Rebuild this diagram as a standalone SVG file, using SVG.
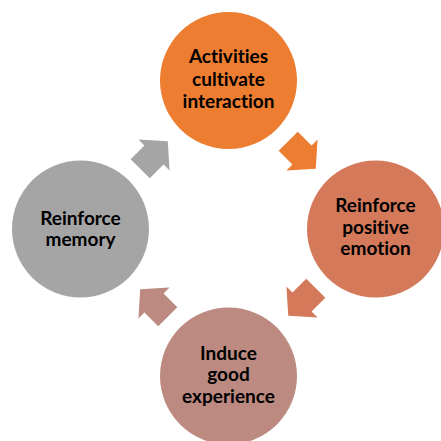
<svg xmlns="http://www.w3.org/2000/svg" width="441" height="441" viewBox="0 0 441 441">
  <defs>
    <style>
      .lbl { font-family: Lato, "Open Sans", "Liberation Sans", sans-serif; font-weight: bold; font-size: 19px; fill: #000; text-anchor: middle; font-variant-ligatures: none; font-feature-settings: "liga" 0, "clig" 0; }
    </style>
    <!-- block arrow pointing along +x, centred on the origin -->
    <polygon id="cycArrow" points="-19.5,-13.5 0,-13.5 0,-22 19.5,0 0,22 0,13.5 -19.5,13.5"/>
  </defs>

  <rect width="441" height="441" fill="#fff"/>

  <g id="connectors">
    <use href="#cycArrow" transform="translate(302,155) rotate(45)" fill="#ED7D31"/>
    <use href="#cycArrow" transform="translate(302,302) rotate(135)" fill="#D47A5B"/>
    <use href="#cycArrow" transform="translate(154,303) rotate(225)" fill="#BC8A80"/>
    <use href="#cycArrow" transform="translate(154,155) rotate(315)" fill="#A5A5A5"/>
  </g>

  <g id="node-activities">
    <circle cx="228.5" cy="80.5" r="68.5" fill="#ED7D31"/>
    <text class="lbl" x="228.5" y="63">Activities</text>
    <text class="lbl" x="228.5" y="85.5">cultivate</text>
    <text class="lbl" x="228.5" y="108">interaction</text>
  </g>

  <g id="node-emotion">
    <circle cx="375.5" cy="229" r="68.5" fill="#D47A5B"/>
    <text class="lbl" x="375.5" y="212">Reinforce</text>
    <text class="lbl" x="375.5" y="233.5">positive</text>
    <text class="lbl" x="375.5" y="255">emotion</text>
  </g>

  <g id="node-experience">
    <circle cx="228.5" cy="376" r="68.5" fill="#BC8A80"/>
    <text class="lbl" x="228.5" y="359.5">Induce</text>
    <text class="lbl" x="228.5" y="381">good</text>
    <text class="lbl" x="228.5" y="403">experience</text>
  </g>

  <g id="node-memory">
    <circle cx="80.5" cy="229" r="68.5" fill="#A5A5A5"/>
    <text class="lbl" x="80.5" y="224.5">Reinforce</text>
    <text class="lbl" x="80.5" y="246">memory</text>
  </g>
</svg>
